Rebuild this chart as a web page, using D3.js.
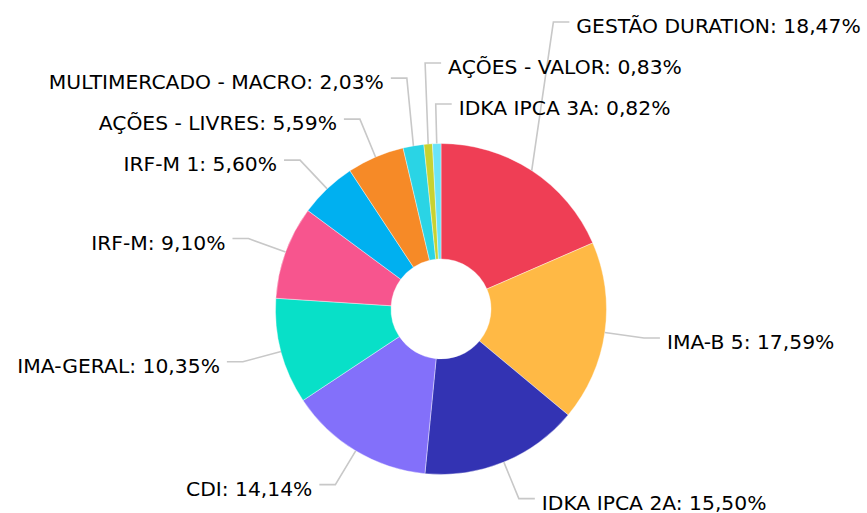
<!DOCTYPE html>
<html>
<head>
<meta charset="utf-8">
<script src="https://cdn.jsdelivr.net/npm/d3@7"></script>
<style>
  html, body { margin: 0; padding: 0; background: #fff; }
  svg text { font-family: "DejaVu Sans", Verdana, sans-serif; font-size: 20.3px; fill: #000; }
</style>
</head>
<body>
<div id="chart"></div>
<script>
// fund allocation, clockwise from 12 o'clock
const categories = [
  "GESTÃO DURATION", "IMA-B 5", "IDKA IPCA 2A", "CDI", "IMA-GERAL", "IRF-M",
  "IRF-M 1", "AÇÕES - LIVRES", "MULTIMERCADO - MACRO", "AÇÕES - VALOR", "IDKA IPCA 3A"
];
const shares = [18.47, 17.59, 15.50, 14.14, 10.35, 9.10, 5.60, 5.59, 2.03, 0.83, 0.82];
const colors = [
  "#ef3e55", "#ffb945", "#3333b3", "#8370fa", "#08e0c8", "#f7558e",
  "#00b0f0", "#f68a27", "#2ad4e5", "#c8d231", "#6be4f8"
];

const width = 867;
const height = 513;
const cx = 441, cy = 309;
const outerR = 165.5, innerR = 50;
const labelR = 205;
const rowH = 41;

const fmt = v => v.toFixed(2).replace(".", ",") + "%";

const svg = d3.select("#chart")
  .append("svg")
  .attr("width", width)
  .attr("height", height);

const data = categories.map((c, i) => ({ name: c, value: shares[i], color: colors[i], i }));

const pie = d3.pie()
  .value(d => d.value)
  .sort(null);

const arc = d3.arc()
  .innerRadius(innerR)
  .outerRadius(outerR);

const arcs = pie(data);

const g = svg.append("g").attr("transform", `translate(${cx},${cy})`);

g.selectAll("path.slice")
  .data(arcs)
  .join("path")
    .attr("class", "slice")
    .attr("d", arc)
    .attr("fill", d => d.data.color)
    .attr("stroke", "#fff")
    .attr("stroke-width", 0.4);

// label layout: natural spot on a bigger circle, then push up from the bottom
const labels = arcs.map(a => {
  const mid = (a.startAngle + a.endAngle) / 2;
  const s = Math.sin(mid), c = Math.cos(mid);
  return {
    a, mid, s, c,
    right: s >= -0.1,
    wrapped: s < 0,
    x0: outerR * s, y0: -outerR * c,
    ex: labelR * s,
    y: -labelR * c
  };
});

function stack(list) {
  // list is top -> bottom
  for (let k = list.length - 2; k >= 0; k--) {
    list[k].y = Math.min(list[k].y, list[k + 1].y - rowH);
  }
}

const rightSide = labels.filter(l => l.right)
  .sort((p, q) => {
    const key = l => l.a.index === 0 ? -2 : (l.wrapped ? -1 : l.a.index);
    return key(p) - key(q) || p.a.index - q.a.index;
  });
const leftSide = labels.filter(l => !l.right)
  .sort((p, q) => q.a.index - p.a.index);

stack(rightSide);
stack(leftSide);

const line = d3.line();

g.selectAll("path.leader")
  .data(labels)
  .join("path")
    .attr("class", "leader")
    .attr("fill", "none")
    .attr("stroke", "#c8c8c8")
    .attr("stroke-width", 1.6)
    .attr("d", l => line([
      [l.x0, l.y0],
      [l.ex, l.y],
      [l.ex + (l.right ? 16 : -16), l.y]
    ]));

g.selectAll("text.lbl")
  .data(labels)
  .join("text")
    .attr("class", "lbl")
    .attr("x", l => l.ex + (l.right ? 23 : -23))
    .attr("y", l => l.y + 11)
    .attr("text-anchor", l => l.right ? "start" : "end")
    .text(l => `${l.a.data.name}: ${fmt(l.a.data.value)}`);
</script>
</body>
</html>
